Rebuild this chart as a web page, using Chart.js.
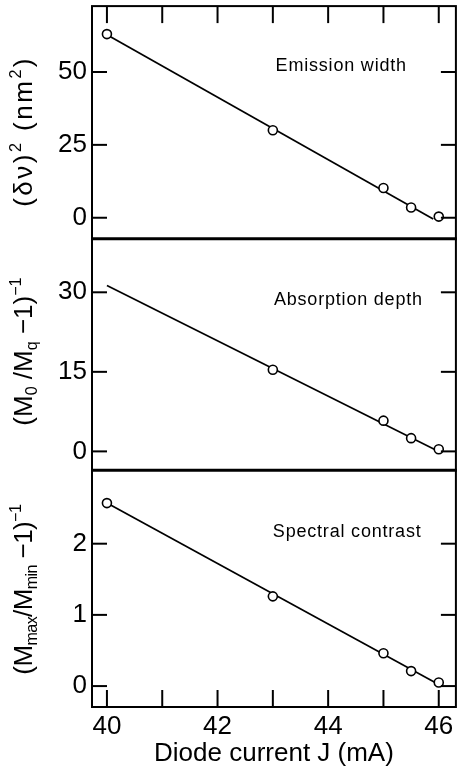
<!DOCTYPE html>
<html>
<head>
<meta charset="utf-8">
<script src="https://cdn.jsdelivr.net/npm/chart.js@4.4.1/dist/chart.umd.min.js"></script>
<style>
  html, body { margin: 0; padding: 0; background: #fff; }
  #wrap { position: relative; width: 462px; height: 771px; }
</style>
</head>
<body>
<div id="wrap"><canvas id="chart" width="462" height="771"></canvas></div>
<script>
// measured points, diode current J in mA
const current = [40.0, 43.0, 45.0, 45.5, 46.0];
const emissionWidth = [63.0, 30.0, 10.2, 3.5, 0.4];
const absorptionCurrent = [43.0, 45.0, 45.5, 46.0];
const absorptionDepth = [15.4, 5.8, 2.5, 0.4];
const spectralContrast = [2.57, 1.26, 0.46, 0.21, 0.05];

// straight-line fits, start and end of each
const emissionFitJ = [40.0, 45.9];
const emissionFit = [62.8, -0.4];
const absorptionFitJ = [40.0, 46.0];
const absorptionFit = [31.3, 0.0];
const contrastFitJ = [40.0, 46.05];
const contrastFit = [2.57, 0.0];

// axis ticks
const currentTicks = [40, 41, 42, 43, 44, 45, 46];
const emissionTicks = [0, 25, 50];
const absorptionTicks = [0, 15, 30];
const contrastTicks = [0, 1, 2];

const panelLabels = ['Emission width', 'Absorption depth', 'Spectral contrast'];

// y titles as runs: 0 = normal, 1 = superscript, -1 = subscript
const emissionTitle = [['(δν)', 0], ['2', 1], [' (nm', 0], ['2', 1], [')', 0]];
const absorptionTitle = [['(M', 0], ['0', -1], [' /M', 0], ['q', -1], [' −1)', 0], ['−1', 1]];
const contrastTitle = [['(M', 0], ['max', -1], ['/M', 0], ['min', -1], [' −1)', 0], ['−1', 1]];

const FONT = '"Liberation Sans", Arial, sans-serif';

const toXY = (xs, ys) => xs.map((x, i) => ({ x, y: ys[i] }));

function pointSet(xs, ys, axis) {
  return {
    data: toXY(xs, ys), yAxisID: axis, showLine: false,
    pointRadius: 4.5, pointStyle: 'circle', pointBackgroundColor: '#fff',
    pointBorderColor: '#000', pointBorderWidth: 1.6
  };
}
function fitSet(xs, ys, axis) {
  return {
    data: toXY(xs, ys), yAxisID: axis, showLine: true, pointRadius: 0,
    borderColor: '#000', borderWidth: 1.7, fill: false
  };
}

function yAxis(weight, min, max, ticks) {
  return {
    type: 'linear', position: 'left', stack: 'panels', stackWeight: weight,
    min, max,
    afterBuildTicks: s => { s.ticks = ticks.map(v => ({ value: v })); },
    afterFit: s => { s.width = 92; s.paddingTop = 0; s.paddingBottom = 0; },
    grid: { display: false, drawTicks: false },
    border: { display: false },
    ticks: { color: '#000', padding: 5, font: { family: FONT, size: 26 } }
  };
}

// top to bottom
const panels = [
  { id: 'y1', label: panelLabels[0], title: emissionTitle, at: [43.05, 52], shift: 9, spacing: 2.5 },
  { id: 'y2', label: panelLabels[1], title: absorptionTitle, at: [43.02, 28.6], shift: -3, spacing: 0 },
  { id: 'y3', label: panelLabels[2], title: contrastTitle, at: [43.0, 2.17], shift: 1, spacing: -0.6 }
];

function drawRuns(ctx, runs, cx, cy, size, spacing) {
  ctx.save();
  ctx.letterSpacing = spacing + 'px';
  const parts = runs.map(([t, k]) => {
    const fs = k === 0 ? size : size * 0.62;
    ctx.font = fs + 'px ' + FONT;
    return { t, k, fs, w: ctx.measureText(t).width };
  });
  const total = parts.reduce((a, p) => a + p.w, 0);
  ctx.translate(cx, cy);
  ctx.rotate(-Math.PI / 2);
  let x = -total / 2;
  ctx.textBaseline = 'alphabetic';
  ctx.textAlign = 'left';
  parts.forEach(p => {
    ctx.font = p.fs + 'px ' + FONT;
    const dy = p.k === 1 ? -size * 0.42 : p.k === -1 ? size * 0.2 : 0;
    ctx.fillText(p.t, x, dy);
    x += p.w;
  });
  ctx.letterSpacing = '0px';
  ctx.restore();
}

const framePlugin = {
  id: 'frame',
  afterDraw(chart) {
    const { ctx, chartArea: a, scales } = chart;
    const seg = (x1, y1, x2, y2) => { ctx.beginPath(); ctx.moveTo(x1, y1); ctx.lineTo(x2, y2); ctx.stroke(); };
    ctx.save();
    ctx.strokeStyle = '#000';
    ctx.fillStyle = '#000';
    ctx.lineWidth = 2;

    // inward ticks on both sides of every panel
    panels.forEach(p => {
      const s = scales[p.id];
      s.ticks.forEach(t => {
        const y = s.getPixelForValue(t.value);
        seg(a.left, y, a.left + 15, y);
        seg(a.right - 15, y, a.right, y);
      });
    });
    // current ticks along the top and bottom edges
    const xs = scales.x;
    xs.ticks.forEach(t => {
      const x = xs.getPixelForValue(t.value);
      seg(x, a.top, x, a.top + 17);
      seg(x, a.bottom - 17, x, a.bottom);
    });

    // panel separators
    ctx.lineWidth = 3;
    panels.slice(1).forEach(p => {
      const y = scales[p.id].top;
      seg(a.left - 1, y, a.right + 1, y);
    });
    ctx.lineWidth = 2;
    ctx.strokeRect(a.left, a.top, a.right - a.left, a.bottom - a.top);

    // panel captions and y titles
    panels.forEach(p => {
      const s = scales[p.id];
      ctx.font = '18px ' + FONT;
      ctx.letterSpacing = '0.8px';
      ctx.textAlign = 'left';
      ctx.textBaseline = 'middle';
      ctx.fillText(p.label, xs.getPixelForValue(p.at[0]), s.getPixelForValue(p.at[1]));
      ctx.letterSpacing = '0px';
      drawRuns(ctx, p.title, 32, (s.top + s.bottom) / 2 + p.shift, 26, p.spacing);
    });
    ctx.restore();
  }
};

new Chart(document.getElementById('chart'), {
  type: 'scatter',
  data: {
    datasets: [
      pointSet(current, emissionWidth, 'y1'),
      pointSet(absorptionCurrent, absorptionDepth, 'y2'),
      pointSet(current, spectralContrast, 'y3'),
      fitSet(emissionFitJ, emissionFit, 'y1'),
      fitSet(absorptionFitJ, absorptionFit, 'y2'),
      fitSet(contrastFitJ, contrastFit, 'y3')
    ]
  },
  options: {
    responsive: false,
    animation: false,
    devicePixelRatio: 1,
    layout: { padding: { top: 5, right: 5, left: 0, bottom: 0 } },
    plugins: { legend: { display: false }, tooltip: { enabled: false } },
    scales: {
      x: {
        type: 'linear', position: 'bottom', min: 39.73, max: 46.31,
        afterBuildTicks: s => { s.ticks = currentTicks.map(v => ({ value: v })); },
        afterFit: s => { s.height = 64; },
        grid: { display: false, drawTicks: false },
        border: { display: false },
        ticks: {
          color: '#000', padding: 4, maxRotation: 0, autoSkip: false,
          font: { family: FONT, size: 26 },
          callback: v => (v % 2 === 0 ? v : '')
        },
        title: {
          display: true, text: 'Diode current J (mA)', color: '#000',
          font: { family: FONT, size: 26 }, padding: { top: 0, bottom: 2 }
        }
      },
      // stacked panels are laid out bottom-up in key order
      y3: yAxis(237, -0.294, 3.03, contrastTicks),
      y2: yAxis(232, -3.58, 40.1, absorptionTicks),
      y1: yAxis(233, -7.2, 72.6, emissionTicks)
    }
  },
  plugins: [framePlugin]
});
</script>
</body>
</html>
